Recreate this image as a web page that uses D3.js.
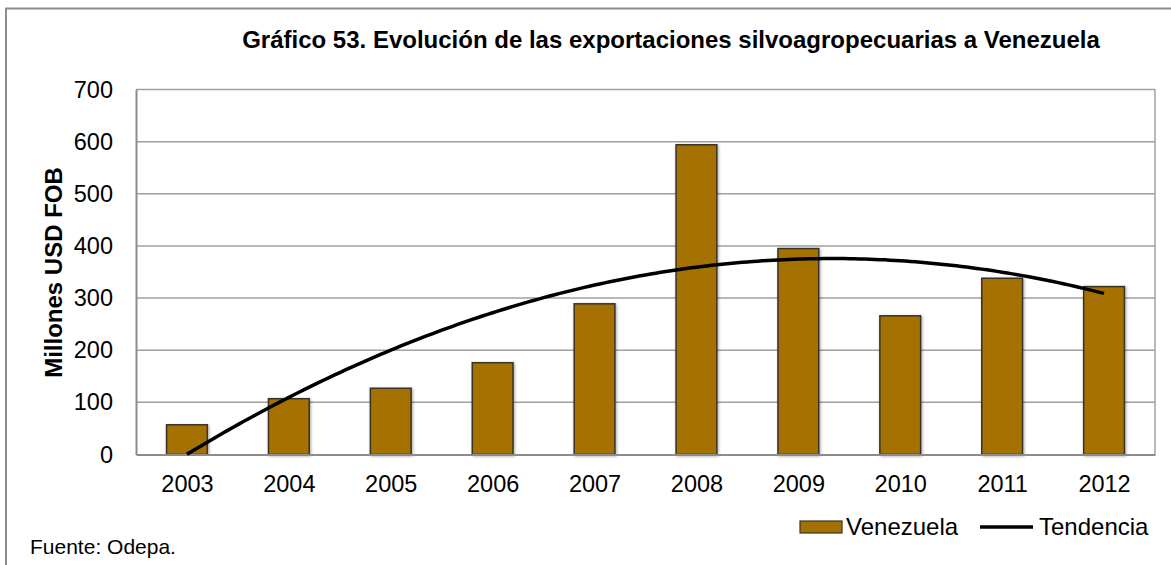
<!DOCTYPE html>
<html>
<head>
<meta charset="utf-8">
<script src="https://cdn.jsdelivr.net/npm/d3@7"></script>
<style>
  html, body { margin: 0; padding: 0; background: #fff; }
  svg { display: block; font-family: "Liberation Sans", Arial, sans-serif; }
</style>
</head>
<body>
<svg id="chart" width="1171" height="565"></svg>
<script>
// Exportaciones silvoagropecuarias a Venezuela (millones USD FOB)
const years = ["2003", "2004", "2005", "2006", "2007", "2008", "2009", "2010", "2011", "2012"];
const exportsVE = [57, 107, 127, 176, 289, 594, 395, 266, 338, 322];
const yTicks = [0, 100, 200, 300, 400, 500, 600, 700];

const svg = d3.select("#chart");
const W = 1171, H = 565;
const m = { left: 136, right: 1155, top: 89.5, bottom: 454.5 };
const FONT = "Liberation Sans, Arial, sans-serif";

// outer frame
svg.append("rect")
  .attr("x", 6).attr("y", 8.5).attr("width", W + 10).attr("height", H)
  .attr("fill", "#fff").attr("stroke", "#8c8c8c").attr("stroke-width", 2);

const defs = svg.append("defs");
const f = defs.append("filter").attr("id", "shadow")
  .attr("x", "-20%").attr("y", "-5%").attr("width", "140%").attr("height", "110%");
f.append("feDropShadow").attr("dx", 1).attr("dy", 1).attr("stdDeviation", 1.6)
  .attr("flood-color", "#000").attr("flood-opacity", 0.35);

const x = d3.scaleBand().domain(years).range([m.left, m.right]).paddingInner(0.6).paddingOuter(0.3);
const xc = d3.scalePoint().domain(years).range([m.left, m.right]).padding(0.5);
const y = d3.scaleLinear().domain([0, 700]).range([m.bottom, m.top]);

// gridlines
svg.append("g").selectAll("line").data(yTicks.filter(d => d > 0)).join("line")
  .attr("x1", m.left).attr("x2", m.right)
  .attr("y1", d => y(d)).attr("y2", d => y(d))
  .attr("stroke", "#a0a0a0").attr("stroke-width", 1.5);

// plot frame right side
svg.append("line").attr("x1", m.right).attr("x2", m.right).attr("y1", m.top).attr("y2", m.bottom)
  .attr("stroke", "#a0a0a0").attr("stroke-width", 1.5);

// bars
svg.append("g").selectAll("rect").data(exportsVE).join("rect")
  .attr("x", (d, i) => x(years[i]))
  .attr("width", x.bandwidth())
  .attr("y", d => y(d))
  .attr("height", d => y(0) - y(d))
  .attr("fill", "#a57103")
  .attr("stroke", "#3b3226").attr("stroke-width", 1.5)
  .attr("filter", "url(#shadow)");

// y axis
const yAxis = d3.axisLeft(y).tickValues(yTicks).tickSize(0).tickPadding(23);
const gy = svg.append("g").attr("transform", `translate(${m.left},0)`).call(yAxis);
gy.attr("font-size", null).attr("font-family", null);
gy.select(".domain").attr("stroke", "#8c8c8c").attr("stroke-width", 2);
gy.selectAll("text").style("font-size", "23.5px").attr("fill", "#000").style("font-family", FONT);

// x axis
const xAxis = d3.axisBottom(xc).tickSize(0).tickPadding(21);
const gx = svg.append("g").attr("transform", `translate(0,${m.bottom})`).call(xAxis);
gx.attr("font-size", null).attr("font-family", null);
gx.select(".domain").attr("stroke", "#8c8c8c").attr("stroke-width", 2);
gx.selectAll("text").style("font-size", "23.5px").attr("fill", "#000").style("font-family", FONT);

// polynomial (order 2) least-squares trend of the exports
function quadFit(vals) {
  const n = vals.length, xs = vals.map((_, i) => i + 1);
  const mean = d3.mean(xs);
  const u = xs.map(v => v - mean);
  const su2 = d3.sum(u, v => v * v), su4 = d3.sum(u, v => v ** 4);
  const sy = d3.sum(vals), suy = d3.sum(vals, (v, i) => u[i] * v);
  const su2y = d3.sum(vals, (v, i) => u[i] * u[i] * v);
  const b = suy / su2;
  const c = (su2y - su2 * sy / n) / (su4 - su2 * su2 / n);
  const a = (sy - c * su2) / n;
  return t => a + b * (t - mean) + c * (t - mean) ** 2;
}
const trend = quadFit(exportsVE);
const step = xc.step();
const samples = d3.range(1, 10.001, 0.05);
const line = d3.line()
  .x(t => xc(years[0]) + (t - 1) * step)
  .y(t => y(trend(t)));
svg.append("path").datum(samples).attr("d", line)
  .attr("fill", "none").attr("stroke", "#000").attr("stroke-width", 3.5)
  .attr("stroke-linecap", "butt");

// title
svg.append("text").attr("x", 671).attr("y", 48).attr("text-anchor", "middle")
  .style("font-size", "24px").attr("font-weight", "bold")
  .text("Gráfico 53. Evolución de las exportaciones silvoagropecuarias a Venezuela");

// y axis title
svg.append("text").attr("transform", `translate(62,272.5) rotate(-90)`)
  .attr("text-anchor", "middle").style("font-size", "24px").attr("font-weight", "bold")
  .text("Millones USD FOB");

// legend
const lg = svg.append("g");
lg.append("rect").attr("x", 800).attr("y", 521).attr("width", 42).attr("height", 12)
  .attr("fill", "#a57103").attr("stroke", "#3b3226").attr("stroke-width", 1.2);
lg.append("text").attr("x", 846).attr("y", 535).style("font-size", "24px").text("Venezuela");
lg.append("line").attr("x1", 980).attr("x2", 1033).attr("y1", 527).attr("y2", 527)
  .attr("stroke", "#000").attr("stroke-width", 3.5);
lg.append("text").attr("x", 1039).attr("y", 535).style("font-size", "24px").text("Tendencia");

// source
svg.append("text").attr("x", 30).attr("y", 554).style("font-size", "21px").text("Fuente: Odepa.");
</script>
</body>
</html>
